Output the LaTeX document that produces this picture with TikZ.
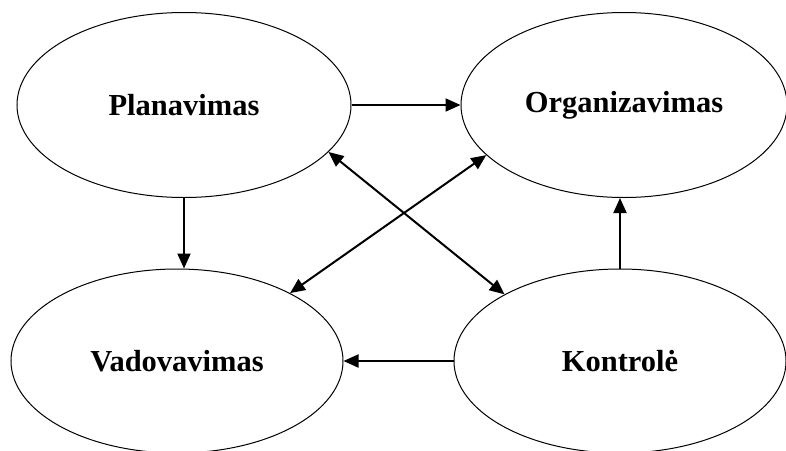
\documentclass[tikz,border=0pt]{standalone}
\usepackage{fontspec}
\setmainfont{Liberation Serif}
\usetikzlibrary{shapes.geometric,arrows.meta}
\tikzset{
  stage/.style={ellipse, draw, line width=1pt, inner sep=0pt,
    font=\bfseries\fontsize{30.5}{36}\selectfont},
  flow/.style={line width=2pt, -{Triangle[length=15pt,width=13pt]}},
  twoway/.style={line width=2pt, {Triangle[length=15pt,width=13pt]}-{Triangle[length=15pt,width=13pt]}}
}
\begin{document}
\begin{tikzpicture}[x=1pt,y=-1pt]
\useasboundingbox (0,0) rectangle (786,450);
\node[stage, minimum width=334pt, minimum height=185pt] (p) at (184,105) {Planavimas};
\node[stage, minimum width=326pt, minimum height=185pt] (o) at (624,105) {Organizavimas};
\node[stage, minimum width=332pt, minimum height=184pt] (v) at (177,361) {Vadovavimas};
\node[stage, minimum width=332pt, minimum height=184pt] (k) at (620,361) {Kontrolė};
% straight flows
\draw[flow] (p) -- (o);
\draw[flow] (p.south) -- (p.south |- v.north);
\draw[flow] (k.north) -- (k.north |- o.south);
\draw[flow] (k.west) -- (k.west -| v.east);
% crossing two-way links
\draw[twoway] (p.-18.4) -- (k.150.3);
\draw[twoway] (o.-160.35) -- (v.31.3);
\end{tikzpicture}
\end{document}
